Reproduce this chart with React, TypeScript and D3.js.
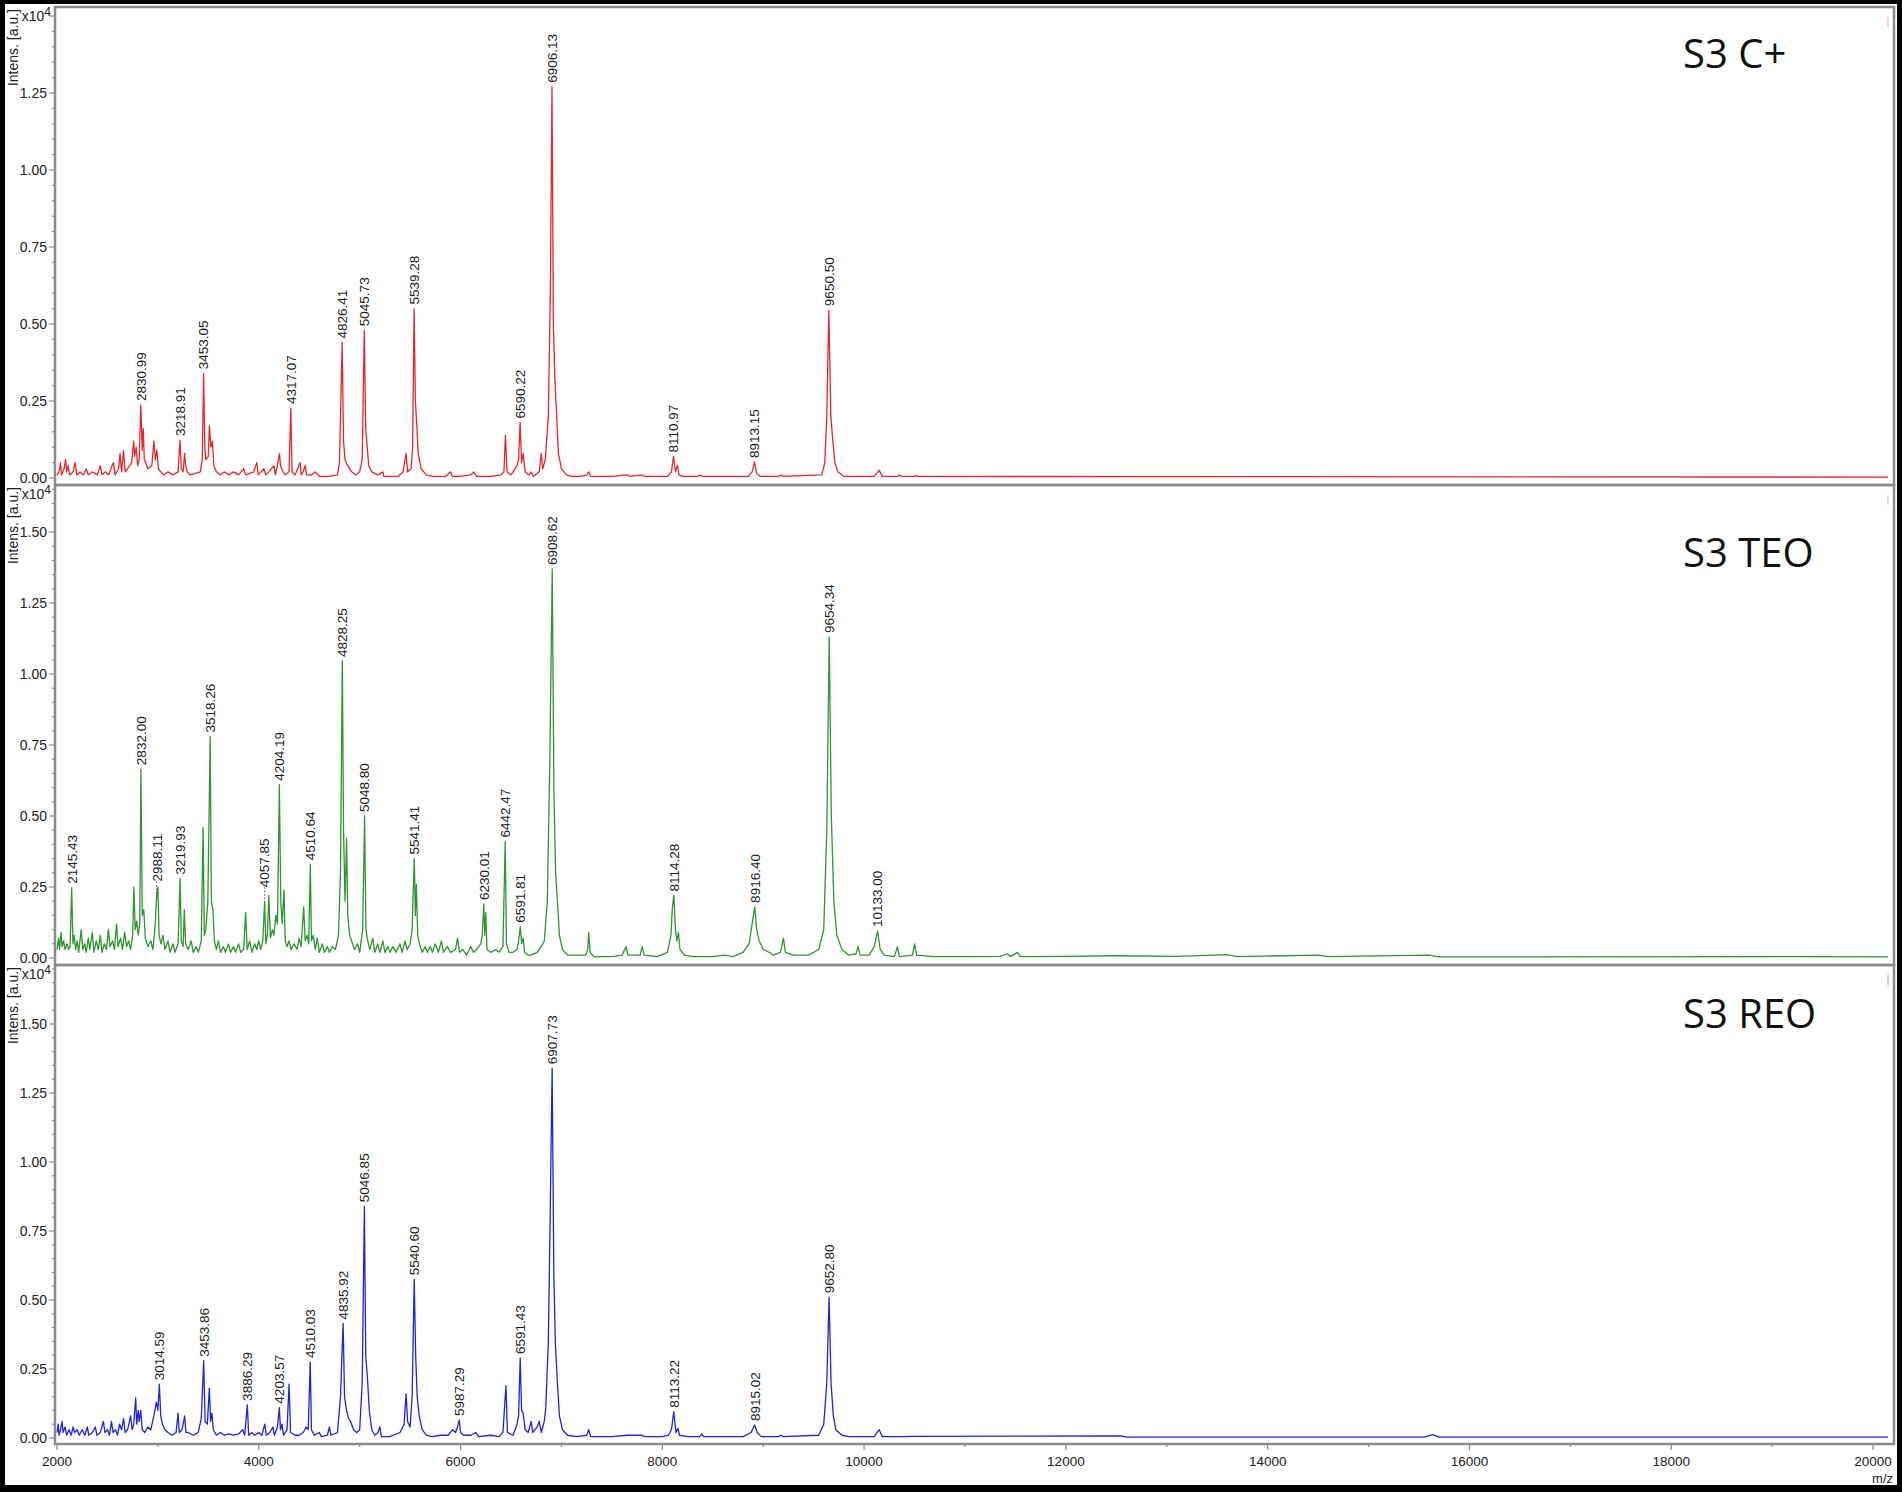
import React from "react";
import * as d3 from "d3";

// ---------- DATA (m/z, intensity x10^4) ----------
const panelTitles = ["S3 C+", "S3 TEO", "S3 REO"];

const spectrumCplus: [number, number][] = [
  [2000, 0.01], [2020, 0.02], [2035, 0.05], [2045, 0.01], [2070, 0.03], [2085, 0.06], [2095, 0.02], [2110, 0.04], [2125, 0.01],
  [2160, 0.02], [2180, 0.05], [2195, 0.01], [2230, 0.02], [2260, 0.01], [2290, 0.03], [2310, 0.01], [2350, 0.02],
  [2400, 0.01], [2430, 0.04], [2445, 0.01], [2480, 0.02], [2510, 0.01], [2560, 0.05], [2575, 0.01],
  [2610, 0.03], [2625, 0.08], [2640, 0.02], [2660, 0.09], [2675, 0.02], [2700, 0.03],
  [2740, 0.05], [2760, 0.12], [2770, 0.07], [2785, 0.1], [2800, 0.04], [2815, 0.06], [2830.99, 0.237], [2845, 0.09], [2855, 0.16], [2865, 0.06], [2880, 0.05], [2900, 0.03],
  [2940, 0.04], [2960, 0.12], [2975, 0.06], [2990, 0.09], [3005, 0.03], [3030, 0.02], [3060, 0.01], [3100, 0.02], [3150, 0.01],
  [3200, 0.02], [3218.91, 0.123], [3232, 0.03], [3250, 0.02], [3265, 0.08], [3275, 0.04], [3290, 0.02], [3320, 0.01],
  [3420, 0.02], [3440, 0.06], [3453.05, 0.34], [3465, 0.1], [3475, 0.06], [3500, 0.07], [3510, 0.17], [3525, 0.1], [3540, 0.12], [3555, 0.04], [3580, 0.02],
  [3620, 0.01], [3660, 0.02], [3700, 0.01], [3750, 0.02], [3800, 0.01], [3850, 0.03], [3870, 0.01], [3950, 0.02], [3980, 0.05], [3995, 0.01],
  [4050, 0.03], [4070, 0.01], [4100, 0.02], [4150, 0.04], [4165, 0.01], [4190, 0.05], [4205, 0.08], [4215, 0.04], [4240, 0.02], [4260, 0.01],
  [4300, 0.02], [4317.07, 0.227], [4330, 0.02], [4360, 0.01], [4410, 0.05], [4420, 0.01], [4440, 0.02], [4460, 0.04], [4475, 0.01], [4520, 0.01],
  [4560, 0.02], [4600, 0.005], [4700, 0.005], [4780, 0.01],
  [4800, 0.05], [4826.41, 0.44], [4840, 0.12], [4855, 0.06], [4880, 0.04], [4920, 0.02], [4960, 0.01], [5000, 0.02], [5025, 0.06], [5045.73, 0.48],
  [5060, 0.16], [5075, 0.1], [5090, 0.04], [5120, 0.02], [5180, 0.01], [5230, 0.02], [5240, 0.005], [5300, 0.005], [5380, 0.005],
  [5430, 0.02], [5460, 0.08], [5475, 0.02], [5510, 0.03], [5525, 0.1], [5539.28, 0.55], [5552, 0.25], [5565, 0.18], [5580, 0.08], [5610, 0.03], [5660, 0.01], [5720, 0.005],
  [5800, 0.005], [5850, 0.005], [5900, 0.02], [5920, 0.005], [6000, 0.005], [6100, 0.01], [6130, 0.02], [6160, 0.005], [6300, 0.005],
  [6400, 0.01], [6430, 0.02], [6445, 0.14], [6460, 0.02], [6500, 0.01], [6560, 0.04], [6575, 0.06], [6590.22, 0.18], [6605, 0.05], [6620, 0.08], [6640, 0.02],
  [6680, 0.01], [6700, 0.02], [6720, 0.005],
  [6780, 0.02], [6800, 0.08], [6815, 0.03], [6840, 0.06], [6870, 0.2], [6890, 0.6], [6906.13, 1.27], [6920, 0.5], [6935, 0.32], [6950, 0.22], [6970, 0.08],
  [7000, 0.03], [7050, 0.01], [7100, 0.005],
  [7200, 0.005], [7250, 0.01], [7270, 0.02], [7290, 0.005], [7500, 0.005], [7650, 0.01], [7680, 0.005], [7800, 0.01], [7820, 0.005],
  [8050, 0.005], [8090, 0.02], [8110.97, 0.07], [8130, 0.02], [8150, 0.04], [8165, 0.01], [8200, 0.005], [8350, 0.005], [8380, 0.01], [8400, 0.005],
  [8850, 0.005], [8890, 0.02], [8913.15, 0.052], [8935, 0.015], [8970, 0.005], [9150, 0.005], [9180, 0.01], [9200, 0.005],
  [9580, 0.01], [9610, 0.05], [9630, 0.2], [9650.5, 0.545], [9670, 0.2], [9690, 0.12], [9710, 0.05], [9740, 0.02], [9800, 0.005],
  [10100, 0.005], [10150, 0.025], [10180, 0.005], [10330, 0.005], [10350, 0.01], [10370, 0.005], [10500, 0.005], [10520, 0.008], [10540, 0.005],
  [20150, 0.003],
];

const spectrumTEO: [number, number][] = [
  [2000, 0.03], [2015, 0.07], [2025, 0.03], [2040, 0.09], [2050, 0.04], [2065, 0.06], [2080, 0.03], [2100, 0.05], [2115, 0.03], [2130, 0.04],
  [2145.43, 0.247], [2158, 0.05], [2170, 0.08], [2185, 0.03], [2200, 0.06], [2215, 0.02], [2240, 0.1], [2255, 0.03], [2275, 0.05], [2290, 0.02],
  [2310, 0.07], [2325, 0.03], [2350, 0.09], [2365, 0.02], [2390, 0.06], [2410, 0.03], [2430, 0.08], [2445, 0.02], [2470, 0.05], [2490, 0.03],
  [2510, 0.1], [2525, 0.04], [2550, 0.06], [2570, 0.03], [2590, 0.12], [2605, 0.04], [2630, 0.07], [2650, 0.03], [2670, 0.09], [2690, 0.04],
  [2710, 0.06], [2730, 0.03],
  [2750, 0.08], [2762, 0.25], [2775, 0.1], [2790, 0.13], [2805, 0.08], [2820, 0.12], [2832.0, 0.665], [2845, 0.15], [2860, 0.17], [2875, 0.07],
  [2900, 0.04], [2930, 0.06], [2950, 0.03], [2970, 0.1], [2988.11, 0.22], [3000, 0.25], [3012, 0.08], [3030, 0.05], [3050, 0.08], [3070, 0.03],
  [3100, 0.06], [3120, 0.02], [3150, 0.05], [3170, 0.02], [3200, 0.05], [3219.93, 0.28], [3232, 0.06], [3250, 0.04], [3262, 0.17], [3275, 0.05],
  [3300, 0.03], [3330, 0.06], [3350, 0.02], [3380, 0.04], [3400, 0.02], [3430, 0.06], [3448, 0.46], [3460, 0.08], [3475, 0.1], [3495, 0.2],
  [3518.26, 0.78], [3530, 0.2], [3545, 0.17], [3560, 0.06], [3580, 0.03], [3600, 0.06], [3620, 0.02], [3650, 0.04], [3670, 0.02], [3700, 0.05],
  [3720, 0.02], [3750, 0.04], [3770, 0.02], [3800, 0.05], [3820, 0.02], [3850, 0.03], [3870, 0.16], [3885, 0.03], [3910, 0.06], [3930, 0.02],
  [3960, 0.05], [3980, 0.03], [4000, 0.06], [4020, 0.03], [4040, 0.06], [4057.85, 0.2], [4070, 0.05], [4085, 0.08], [4100, 0.22], [4115, 0.07],
  [4135, 0.1], [4150, 0.08], [4170, 0.15], [4185, 0.12], [4204.19, 0.61], [4218, 0.2], [4232, 0.12], [4250, 0.24], [4262, 0.06], [4280, 0.04],
  [4300, 0.06], [4320, 0.03], [4350, 0.05], [4380, 0.03], [4400, 0.07], [4420, 0.04], [4445, 0.18], [4460, 0.06], [4480, 0.08], [4495, 0.05],
  [4510.64, 0.33], [4522, 0.06], [4540, 0.08], [4560, 0.03], [4580, 0.07], [4600, 0.02], [4630, 0.05], [4650, 0.02], [4680, 0.04], [4700, 0.02],
  [4730, 0.04], [4760, 0.03], [4790, 0.08], [4810, 0.3], [4828.25, 1.046], [4840, 0.45], [4855, 0.2], [4870, 0.42], [4882, 0.15], [4900, 0.08],
  [4920, 0.06], [4950, 0.03], [4980, 0.05], [5000, 0.02], [5030, 0.1], [5048.8, 0.5], [5062, 0.1], [5080, 0.06], [5100, 0.03], [5130, 0.07],
  [5150, 0.02], [5180, 0.05], [5200, 0.02], [5230, 0.06], [5250, 0.02], [5280, 0.04], [5300, 0.02], [5330, 0.04], [5360, 0.02], [5400, 0.05],
  [5420, 0.02], [5450, 0.06], [5470, 0.03], [5500, 0.05], [5520, 0.1], [5541.41, 0.35], [5552, 0.15], [5562, 0.26], [5575, 0.08], [5600, 0.04],
  [5620, 0.02], [5650, 0.04], [5670, 0.02], [5700, 0.04], [5720, 0.02], [5750, 0.05], [5780, 0.02], [5810, 0.06], [5830, 0.02], [5870, 0.04],
  [5900, 0.02], [5950, 0.03], [5970, 0.07], [5990, 0.02], [6020, 0.03], [6060, 0.01], [6100, 0.04], [6130, 0.02], [6160, 0.03], [6200, 0.05],
  [6215, 0.08], [6230.01, 0.19], [6240, 0.08], [6250, 0.16], [6262, 0.03], [6300, 0.02], [6350, 0.03], [6380, 0.02], [6420, 0.04], [6442.47, 0.41],
  [6455, 0.05], [6480, 0.02], [6520, 0.02], [6560, 0.03], [6575, 0.06], [6591.81, 0.11], [6605, 0.05], [6620, 0.07], [6635, 0.02], [6670, 0.01],
  [6700, 0.01], [6760, 0.02], [6800, 0.04], [6830, 0.06], [6860, 0.2], [6885, 0.7], [6908.62, 1.37], [6925, 0.6], [6942, 0.3], [6960, 0.2],
  [6980, 0.08], [7010, 0.03], [7060, 0.01], [7150, 0.01], [7240, 0.01], [7260, 0.03], [7270, 0.09], [7285, 0.02], [7320, 0.005], [7400, 0.005],
  [7500, 0.005], [7600, 0.01], [7640, 0.04], [7660, 0.01], [7780, 0.01], [7800, 0.04], [7820, 0.01], [7950, 0.005], [8050, 0.02], [8085, 0.08],
  [8100, 0.18], [8114.28, 0.22], [8130, 0.1], [8145, 0.06], [8160, 0.09], [8175, 0.03], [8220, 0.01], [8300, 0.005], [8500, 0.005], [8610, 0.01],
  [8700, 0.005], [8800, 0.02], [8860, 0.05], [8890, 0.12], [8916.4, 0.18], [8935, 0.1], [8960, 0.06], [9000, 0.03], [9060, 0.02], [9100, 0.01],
  [9170, 0.02], [9200, 0.07], [9220, 0.02], [9300, 0.01], [9450, 0.01], [9550, 0.03], [9600, 0.1], [9630, 0.45], [9654.34, 1.13], [9675, 0.5],
  [9700, 0.2], [9730, 0.08], [9780, 0.03], [9850, 0.01], [9920, 0.015], [9940, 0.04], [9960, 0.01], [10050, 0.01], [10100, 0.04], [10133.0, 0.095],
  [10160, 0.03], [10200, 0.01], [10300, 0.005], [10330, 0.04], [10350, 0.005], [10480, 0.01], [10500, 0.05], [10520, 0.01], [10700, 0.005],
  [11000, 0.005], [11350, 0.006], [11420, 0.015], [11450, 0.005], [11520, 0.02], [11550, 0.005], [12000, 0.006], [12500, 0.008], [13100, 0.006],
  [13600, 0.012], [13700, 0.005], [14500, 0.01], [14600, 0.005], [15600, 0.01], [15700, 0.004], [19300, 0.005], [20150, 0.004],
];

const spectrumREO: [number, number][] = [
  [2000, 0.02], [2012, 0.05], [2020, 0.01], [2035, 0.03], [2050, 0.06], [2060, 0.02], [2080, 0.04], [2095, 0.01], [2120, 0.03], [2140, 0.01],
  [2160, 0.04], [2175, 0.02], [2200, 0.03], [2220, 0.01], [2250, 0.03], [2275, 0.01], [2300, 0.04], [2315, 0.01], [2350, 0.02], [2380, 0.04],
  [2395, 0.01], [2430, 0.02], [2460, 0.06], [2475, 0.02], [2500, 0.03], [2520, 0.01], [2540, 0.06], [2555, 0.02], [2580, 0.03], [2600, 0.01],
  [2620, 0.05], [2640, 0.03], [2660, 0.07], [2675, 0.02], [2700, 0.03], [2730, 0.08], [2745, 0.03], [2760, 0.05], [2780, 0.145], [2790, 0.05],
  [2805, 0.1], [2815, 0.06], [2830, 0.1], [2845, 0.03], [2870, 0.02], [2900, 0.04], [2930, 0.03], [2960, 0.08], [2985, 0.13], [3000, 0.1],
  [3014.59, 0.195], [3028, 0.08], [3045, 0.05], [3070, 0.03], [3100, 0.02], [3140, 0.01], [3180, 0.02], [3200, 0.09], [3212, 0.02], [3240, 0.03],
  [3265, 0.08], [3278, 0.02], [3300, 0.02], [3350, 0.01], [3400, 0.02], [3430, 0.07], [3453.86, 0.28], [3468, 0.06], [3490, 0.05], [3510, 0.18],
  [3522, 0.06], [3535, 0.09], [3550, 0.03], [3580, 0.01], [3620, 0.02], [3660, 0.01], [3700, 0.015], [3750, 0.01], [3800, 0.015], [3840, 0.03],
  [3860, 0.01], [3886.29, 0.12], [3900, 0.01], [3930, 0.02], [3960, 0.01], [4000, 0.02], [4030, 0.01], [4060, 0.05], [4075, 0.01], [4110, 0.02],
  [4140, 0.04], [4155, 0.01], [4185, 0.04], [4203.57, 0.11], [4215, 0.03], [4230, 0.05], [4245, 0.01], [4280, 0.03], [4300, 0.195], [4315, 0.02],
  [4360, 0.01], [4400, 0.01], [4440, 0.02], [4470, 0.04], [4490, 0.03], [4510.03, 0.275], [4522, 0.03], [4550, 0.01], [4600, 0.02], [4620, 0.005],
  [4680, 0.01], [4700, 0.04], [4715, 0.01], [4780, 0.02], [4810, 0.15], [4835.92, 0.415], [4850, 0.15], [4870, 0.1], [4890, 0.07], [4910, 0.06],
  [4940, 0.03], [4970, 0.02], [5000, 0.03], [5025, 0.2], [5046.85, 0.84], [5060, 0.3], [5080, 0.2], [5095, 0.1], [5120, 0.03], [5150, 0.01],
  [5180, 0.02], [5200, 0.04], [5215, 0.005], [5300, 0.005], [5400, 0.02], [5440, 0.05], [5460, 0.16], [5475, 0.06], [5500, 0.04], [5520, 0.15],
  [5540.6, 0.575], [5555, 0.3], [5570, 0.15], [5590, 0.08], [5620, 0.03], [5660, 0.01], [5720, 0.005], [5800, 0.01], [5880, 0.01], [5920, 0.03],
  [5950, 0.02], [5970, 0.04], [5987.29, 0.065], [6000, 0.02], [6030, 0.01], [6100, 0.01], [6150, 0.02], [6180, 0.005], [6300, 0.01], [6380, 0.005],
  [6420, 0.02], [6450, 0.19], [6465, 0.02], [6520, 0.01], [6560, 0.05], [6575, 0.08], [6591.43, 0.29], [6605, 0.1], [6620, 0.09], [6640, 0.03],
  [6670, 0.02], [6700, 0.06], [6715, 0.02], [6760, 0.04], [6780, 0.06], [6800, 0.02], [6830, 0.06], [6845, 0.11], [6870, 0.35], [6890, 0.85],
  [6907.73, 1.34], [6925, 0.58], [6940, 0.34], [6960, 0.2], [6980, 0.08], [7010, 0.03], [7060, 0.01], [7150, 0.005], [7250, 0.01], [7270, 0.03],
  [7290, 0.005], [7500, 0.005], [7650, 0.01], [7800, 0.01], [7820, 0.005], [8000, 0.005], [8060, 0.01], [8090, 0.03], [8113.22, 0.095], [8135, 0.02],
  [8155, 0.035], [8170, 0.01], [8250, 0.005], [8370, 0.005], [8390, 0.015], [8410, 0.005], [8800, 0.005], [8880, 0.02], [8915.02, 0.047], [8940, 0.02],
  [8980, 0.005], [9150, 0.005], [9180, 0.01], [9200, 0.005], [9550, 0.01], [9600, 0.05], [9630, 0.2], [9652.8, 0.51], [9672, 0.2], [9695, 0.08],
  [9720, 0.03], [9780, 0.01], [9850, 0.005], [10100, 0.005], [10150, 0.03], [10180, 0.005], [10350, 0.005], [10500, 0.006], [12550, 0.008],
  [12600, 0.003], [15550, 0.003], [15640, 0.012], [15700, 0.003], [20150, 0.003],
];

// peak labels: [m/z, intensity, text, dotted leader?]
const labelsCplus: [number, number, string, boolean][] = [
  [2830.99, 0.237, "2830.99", false], [3218.91, 0.123, "3218.91", false], [3453.05, 0.34, "3453.05", false],
  [4317.07, 0.227, "4317.07", false], [4826.41, 0.44, "4826.41", false], [5045.73, 0.48, "5045.73", false],
  [5539.28, 0.55, "5539.28", false], [6590.22, 0.18, "6590.22", false], [6906.13, 1.27, "6906.13", false],
  [8110.97, 0.07, "8110.97", false], [8913.15, 0.052, "8913.15", false], [9650.5, 0.545, "9650.50", false],
];
const labelsTEO: [number, number, string, boolean][] = [
  [2145.43, 0.247, "2145.43", false], [2832.0, 0.665, "2832.00", false], [2988.11, 0.22, "2988.11", true],
  [3219.93, 0.28, "3219.93", false], [3518.26, 0.78, "3518.26", false], [4057.85, 0.2, "4057.85", true],
  [4204.19, 0.61, "4204.19", false], [4510.64, 0.33, "4510.64", false], [4828.25, 1.046, "4828.25", false],
  [5048.8, 0.5, "5048.80", false], [5541.41, 0.35, "5541.41", false], [6230.01, 0.19, "6230.01", false],
  [6442.47, 0.41, "6442.47", false], [6591.81, 0.11, "6591.81", false], [6908.62, 1.37, "6908.62", false],
  [8114.28, 0.22, "8114.28", false], [8916.4, 0.18, "8916.40", false], [9654.34, 1.13, "9654.34", false],
  [10133.0, 0.095, "10133.00", false],
];
const labelsREO: [number, number, string, boolean][] = [
  [3014.59, 0.195, "3014.59", false], [3453.86, 0.28, "3453.86", false], [3886.29, 0.12, "3886.29", false],
  [4203.57, 0.11, "4203.57", false], [4510.03, 0.275, "4510.03", false], [4835.92, 0.415, "4835.92", false],
  [5046.85, 0.84, "5046.85", false], [5540.6, 0.575, "5540.60", false], [5987.29, 0.065, "5987.29", false],
  [6591.43, 0.29, "6591.43", false], [6907.73, 1.34, "6907.73", false], [8113.22, 0.095, "8113.22", false],
  [8915.02, 0.047, "8915.02", false], [9652.8, 0.51, "9652.80", false],
];

const xTickValues = [2000, 4000, 6000, 8000, 10000, 12000, 14000, 16000, 18000, 20000];
const xMinorTickValues = [3000, 5000, 7000, 9000, 11000, 13000, 15000, 17000, 19000];

// ---------- LAYOUT / STYLE ----------
const W = 1902;
const H = 1492;
const FRAME_L = 55;
const FRAME_R = 1894;
const FONT = "'Liberation Sans', Arial, sans-serif";
const GRAY = "#8a8a8a";

const panelLayout = [
  { top: 7, bottom: 485, zero: 478, unit: 308, color: "#e8262c", titleY: 68 },
  { top: 485, bottom: 965, zero: 958, unit: 284, color: "#2e962e", titleY: 567 },
  { top: 965, bottom: 1444, zero: 1438, unit: 276, color: "#2222e2", titleY: 1028 },
];
const spectra = [spectrumCplus, spectrumTEO, spectrumREO];
const peakLabels = [labelsCplus, labelsTEO, labelsREO];

const x = d3.scaleLinear().domain([2000, 20000]).range([57, 1873]);

function Panel({ idx }: { idx: number }) {
  const L = panelLayout[idx];
  const y = d3.scaleLinear().domain([0, 1]).range([L.zero, L.zero - L.unit]);
  const yMax = y.invert(L.top + 3);
  const minor = d3.range(0, yMax + 1e-9, 0.05).map((v) => Math.round(v * 100) / 100);
  const line = d3
    .line<[number, number]>()
    .x((d) => x(d[0]))
    .y((d) => y(d[1]));
  const clipId = `clip${idx}`;
  return (
    <g>
      <defs>
        <clipPath id={clipId}>
          <rect x={FRAME_L + 1} y={L.top + 1} width={FRAME_R - FRAME_L - 2} height={L.bottom - L.top - 2} />
        </clipPath>
      </defs>
      <path d={line(spectra[idx]) || ""} fill="none" stroke={L.color} strokeWidth={1.3} strokeLinejoin="round" clipPath={`url(#${clipId})`} />
      {/* y ticks */}
      {minor.map((v) => {
        const major = Math.abs(v / 0.25 - Math.round(v / 0.25)) < 1e-6;
        const showLabel = major && y(v) > L.top + 18;
        return (
          <g key={v}>
            <line x1={FRAME_L - (major ? 6 : 3)} x2={FRAME_L} y1={y(v)} y2={y(v)} stroke={GRAY} strokeWidth={1.2} />
            {showLabel && (
              <text x={47} y={y(v)} dy="0.36em" textAnchor="end" fontSize={14} fontFamily={FONT} fill="#222">
                {v.toFixed(2)}
              </text>
            )}
          </g>
        );
      })}
      {/* axis title */}
      <text transform={`translate(18,${L.top + 2}) rotate(-90)`} textAnchor="end" fontSize={14} fontFamily={FONT} fill="#222">
        Intens. [a.u.]
      </text>
      <text x={51} y={L.top + 14} textAnchor="end" fontSize={14} fontFamily={FONT} fill="#222">
        x10<tspan dy={-5} fontSize={12}>4</tspan>
      </text>
      {/* peak labels */}
      {peakLabels[idx].map(([mz, v, txt, leader]) => {
        const px = x(mz);
        const py = y(v);
        const lift = leader ? 14 : 4;
        return (
          <g key={txt}>
            {leader && (
              <line x1={px} x2={px} y1={py - 2} y2={py - lift} stroke="#555" strokeWidth={1} strokeDasharray="1.5,2" />
            )}
            <text
              transform={`translate(${px},${py - lift}) rotate(-90)`}
              dy="0.36em"
              fontSize={13.5}
              fontFamily={FONT}
              fill="#1a1a1a"
            >
              {txt}
            </text>
          </g>
        );
      })}
      {/* panel title */}
      <text x={1683} y={L.titleY} fontSize={40} fontFamily="'Open Sans', sans-serif" fill="#111">
        {panelTitles[idx]}
      </text>
      {/* small end mark */}
      <line x1={1888} x2={1888} y1={L.top + 10} y2={L.top + 20} stroke={L.color} strokeOpacity={0.45} strokeWidth={1} />
      {/* frame */}
      <rect x={FRAME_L} y={L.top} width={FRAME_R - FRAME_L} height={L.bottom - L.top} fill="none" stroke={GRAY} strokeWidth={2.5} />
    </g>
  );
}

export default function App() {
  const axisY = panelLayout[2].bottom;
  return (
    <svg width={W} height={H} style={{ position: "absolute", left: 0, top: 0, display: "block" }}>
      <rect x={0} y={0} width={W} height={H} fill="#000" />
      <rect x={5} y={4} width={1892} height={1481} fill="#fff" />
      {[0, 1, 2].map((i) => (
        <Panel key={i} idx={i} />
      ))}
      {/* x axis */}
      {xTickValues.map((t) => (
        <g key={t}>
          <line x1={x(t)} x2={x(t)} y1={axisY} y2={axisY + 6} stroke={GRAY} strokeWidth={1.2} />
          <text x={x(t)} y={1466} textAnchor="middle" fontSize={13.5} fontFamily={FONT} fill="#222">
            {t}
          </text>
        </g>
      ))}
      {xMinorTickValues.map((t) => (
        <line key={t} x1={x(t)} x2={x(t)} y1={axisY} y2={axisY + 3} stroke={GRAY} strokeWidth={1.2} />
      ))}
      <text x={1893} y={1483} textAnchor="end" fontSize={13} fontFamily={FONT} fill="#222">
        m/z
      </text>
    </svg>
  );
}
